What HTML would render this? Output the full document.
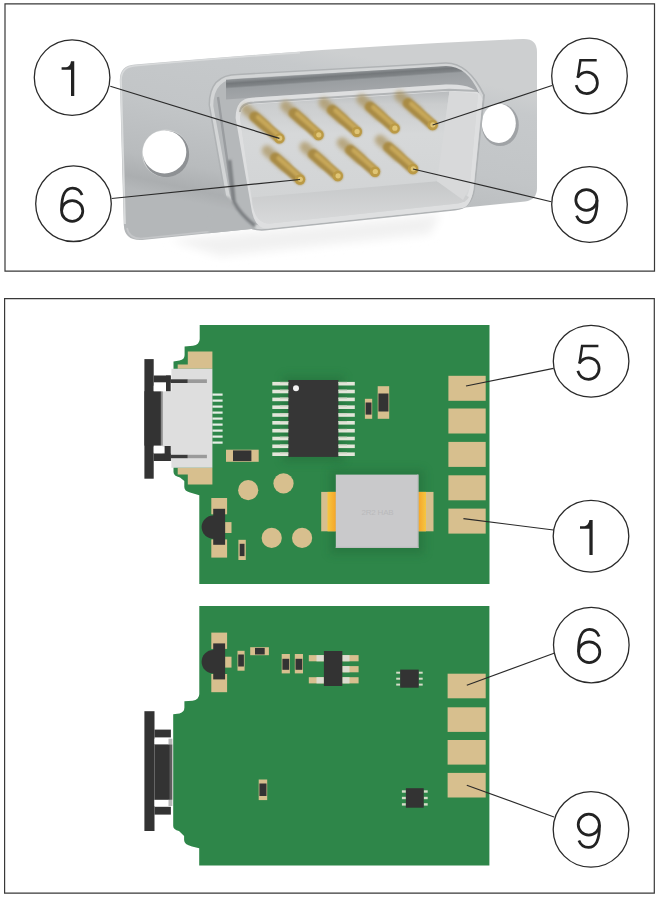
<!DOCTYPE html>
<html><head><meta charset="utf-8">
<style>
html,body{margin:0;padding:0;background:#fff;}
body{width:659px;height:898px;overflow:hidden;}
svg{display:block;}
text{font-family:"Liberation Sans",sans-serif;}
</style></head>
<body>
<svg width="659" height="898" viewBox="0 0 659 898" xmlns="http://www.w3.org/2000/svg">
<defs>
  <linearGradient id="flg" gradientUnits="userSpaceOnUse" x1="330" y1="50" x2="292" y2="224">
    <stop offset="0" stop-color="#cdcfd0"/>
    <stop offset="0.12" stop-color="#c6c9cb"/>
    <stop offset="0.5" stop-color="#c2c5c7"/>
    <stop offset="0.8" stop-color="#b8bbbd"/>
    <stop offset="0.93" stop-color="#abaeb0"/>
    <stop offset="1" stop-color="#b4b7b9"/>
  </linearGradient>
  <linearGradient id="bw" x1="0" y1="0" x2="0" y2="1">
    <stop offset="0" stop-color="#b9bcbe"/>
    <stop offset="0.12" stop-color="#cbcdce"/>
    <stop offset="0.4" stop-color="#d6d8d9"/>
    <stop offset="1" stop-color="#d2d4d5"/>
  </linearGradient>
  <linearGradient id="botw" x1="0" y1="0" x2="0" y2="1">
    <stop offset="0" stop-color="#c6c8c9"/>
    <stop offset="1" stop-color="#d8d9da"/>
  </linearGradient>
  <linearGradient id="pinb" x1="0" y1="0" x2="1" y2="1">
    <stop offset="0" stop-color="#b8923a"/>
    <stop offset="1" stop-color="#c9a245"/>
  </linearGradient>
  <radialGradient id="tip" cx="0.45" cy="0.45" r="0.6">
    <stop offset="0" stop-color="#f0d27a"/>
    <stop offset="1" stop-color="#c9a040"/>
  </radialGradient>
  <filter id="blur05" x="-20%" y="-20%" width="140%" height="140%"><feGaussianBlur stdDeviation="0.5"/></filter>
  <filter id="blur1" x="-20%" y="-20%" width="140%" height="140%"><feGaussianBlur stdDeviation="1.2"/></filter>
  <filter id="blur2" x="-50%" y="-50%" width="200%" height="200%"><feGaussianBlur stdDeviation="2.2"/></filter>
  <filter id="blur4" x="-50%" y="-50%" width="200%" height="200%"><feGaussianBlur stdDeviation="5"/></filter>
  <linearGradient id="orgL" x1="0" y1="0" x2="1" y2="0"><stop offset="0" stop-color="#f6c640"/><stop offset="1" stop-color="#f5a52a"/></linearGradient>
  <linearGradient id="orgR" x1="0" y1="0" x2="1" y2="0"><stop offset="0" stop-color="#f5a52a"/><stop offset="1" stop-color="#f6c640"/></linearGradient>
  <linearGradient id="grv" gradientUnits="userSpaceOnUse" x1="345" y1="72.7" x2="346.3" y2="91.5"><stop offset="0" stop-color="#8c9093"/><stop offset="0.15" stop-color="#74787b"/><stop offset="0.33" stop-color="#808487"/><stop offset="0.42" stop-color="#9a9ea1"/><stop offset="1" stop-color="#a3a6a9"/></linearGradient>
</defs>
<rect width="659" height="898" fill="#fff"/>

<!-- ============ TOP FRAME ============ -->
<g id="connector">
<path d="M170 240 L440 214 L430 234 L220 256 Z" fill="#f1f1f1" filter="url(#blur4)"/>
<path d="M119.8 80 Q120 65.5 135 64.6 Q329 47.4 523 39 Q537 38.5 537 52 L537 188 Q537 200 525 201.5 L142 240 Q124.5 241 123.8 225 Z" fill="url(#flg)"/>
<path d="M121 80 Q121.2 66.6 135.5 65.7 Q230 57.5 300 52.6" fill="none" stroke="#d8dadb" stroke-width="1.6"/>
<path d="M121 80 L125 224" fill="none" stroke="#d9dbdc" stroke-width="1.8"/>
<path d="M127 228 Q129 238.5 141 238.5 L230 229.5" fill="none" stroke="#c4c6c8" stroke-width="1.6" filter="url(#blur05)"/>
<ellipse cx="165.6" cy="153.4" rx="23.6" ry="23.8" fill="#d0d2d3" filter="url(#blur05)"/>
<ellipse cx="166.2" cy="154" rx="23" ry="23.2" fill="#8e9194" filter="url(#blur05)"/>
<ellipse cx="164.5" cy="151.9" rx="21.8" ry="21.5" fill="#fff" filter="url(#blur05)"/>
<ellipse cx="500.2" cy="124.9" rx="18.6" ry="21.2" fill="#a0a3a6" filter="url(#blur05)"/>
<ellipse cx="498.8" cy="123.3" rx="17" ry="19.6" fill="#fff" filter="url(#blur05)"/>
<path d="M208.5 105 Q208.5 73.7 238 73.7 L446 62.2 Q469 62.2 485 95 L475 190 Q472 209 455 210.5 L265 230.5 Q238 233 224.5 196 Z" fill="#b0b3b5" filter="url(#blur05)"/>
<path d="M210 105 Q210 75.2 238 75.2 L446 63.7 Q468 63.7 483 95 L473.5 190 Q470.5 207.5 455 209 L265 229 Q239 231.5 226 195 Z" fill="#d3d5d6"/>
<path d="M213.3 106 Q213.5 78.5 238.5 78.5 L446 66.5 Q465 66.5 479 96 L469.5 190 Q466.5 204.5 454 205.5 L265 225.5 Q243 227.5 229.5 194 Z" fill="#b5b8ba"/>
<path d="M226 79.8 L446 66.1 Q467 66 479 93 L472 97 Q462 85 446 84.6 L226 99.5 Z" fill="url(#grv)" filter="url(#blur05)"/>

<path d="M218 97 L233 200" stroke="#9a9da0" stroke-width="2.4" filter="url(#blur05)"/>
<clipPath id="flclip"><path d="M119.8 80 Q120 65.5 135 64.6 Q329 47.4 523 39 Q537 38.5 537 52 L537 188 Q537 200 525 201.5 L142 240 Q124.5 241 123.8 225 Z"/></clipPath>
<g clip-path="url(#flclip)"><path d="M212 194 L229 197 Q240 213 256 229 L250 238 L208 238 Z" fill="url(#flg)" filter="url(#blur1)"/></g>
<path d="M229.5 160 L234 202 Q240 214 255 226" fill="none" stroke="#7c7f82" stroke-width="3.6" filter="url(#blur1)"/>
<path d="M235.6 118 Q235.6 98.3 252 97.7 L446 84.6 Q476 83 482.4 99 L473.5 188.3 Q471 206 462.8 207.9 L268 228.5 Q256 229.5 252 212 Z" fill="#dedfe0"/>
<path d="M240 112 Q241 103 254 102.5 L449 89.8 L478 91" fill="none" stroke="#a3a6a8" stroke-width="2" opacity="0.75" filter="url(#blur05)"/>
<path d="M240 118 Q241 104.6 254 104.3 L449 91.5 L478 94 L469.5 188 Q467 202 458 203.5 L270 223.5 Q256 224 251.7 200 Z" fill="#d4d6d7"/>
<path d="M240 118 Q241 104.6 254 104.3 L449.4 91.5 L437 181.2 L252 197.4 Z" fill="url(#bw)"/>
<path d="M252 197.4 L437 181.2 L469 197 Q467 202 458 203.5 L270 223.5 Q256 224 252.5 205 Z" fill="url(#botw)"/>
<path d="M449.4 91.5 L478 94 L469.5 188 L463 200 L437 181.2 Z" fill="#d8d9da"/>
<g stroke-linecap="round">
<g stroke="#a88f55" stroke-width="10.5" opacity="0.65" filter="url(#blur2)"><line x1="246.4" y1="109.4" x2="264.4" y2="125.2"/><line x1="285.5" y1="106.0" x2="303.5" y2="121.8"/><line x1="323.8" y1="102.7" x2="341.8" y2="118.5"/><line x1="361.6" y1="99.4" x2="379.6" y2="115.2"/><line x1="399.6" y1="96.0" x2="417.6" y2="111.8"/><line x1="267.0" y1="150.5" x2="285.0" y2="166.3"/><line x1="304.8" y1="147.0" x2="322.8" y2="162.8"/><line x1="342.0" y1="142.7" x2="360.0" y2="158.5"/><line x1="380.0" y1="140.0" x2="398.0" y2="155.8"/></g>
<g stroke="#a98b44" stroke-width="10.4" filter="url(#blur1)"><line x1="254.6" y1="116.6" x2="279.4" y2="138.4"/><line x1="293.8" y1="113.2" x2="318.5" y2="135.0"/><line x1="332.1" y1="109.9" x2="356.8" y2="131.7"/><line x1="369.9" y1="106.6" x2="394.6" y2="128.4"/><line x1="407.9" y1="103.2" x2="432.6" y2="125.0"/><line x1="275.2" y1="157.7" x2="300.0" y2="179.5"/><line x1="313.1" y1="154.2" x2="337.8" y2="176.0"/><line x1="350.2" y1="149.9" x2="375.0" y2="171.7"/><line x1="388.2" y1="147.2" x2="413.0" y2="169.0"/></g>
<g stroke="#cbab5c" stroke-width="4.6" opacity="0.9" filter="url(#blur1)"><line x1="258.1" y1="117.2" x2="280.6" y2="137.0"/><line x1="297.2" y1="113.8" x2="319.7" y2="133.6"/><line x1="335.5" y1="110.5" x2="358.0" y2="130.3"/><line x1="373.3" y1="107.2" x2="395.8" y2="127.0"/><line x1="411.3" y1="103.8" x2="433.8" y2="123.6"/><line x1="278.7" y1="158.3" x2="301.2" y2="178.1"/><line x1="316.5" y1="154.8" x2="339.0" y2="174.6"/><line x1="353.7" y1="150.5" x2="376.2" y2="170.3"/><line x1="391.7" y1="147.8" x2="414.2" y2="167.6"/></g>
</g>
<g fill="#bb9a45" filter="url(#blur05)"><circle cx="279.4" cy="138.4" r="5.2"/><circle cx="318.5" cy="135.0" r="5.2"/><circle cx="356.8" cy="131.7" r="5.2"/><circle cx="394.6" cy="128.4" r="5.2"/><circle cx="432.6" cy="125.0" r="5.2"/><circle cx="300.0" cy="179.5" r="5.2"/><circle cx="337.8" cy="176.0" r="5.2"/><circle cx="375.0" cy="171.7" r="5.2"/><circle cx="413.0" cy="169.0" r="5.2"/></g>
<g fill="#e0c575" filter="url(#blur05)"><circle cx="279.7" cy="138.2" r="2.6"/><circle cx="318.8" cy="134.8" r="2.6"/><circle cx="357.1" cy="131.5" r="2.6"/><circle cx="394.9" cy="128.2" r="2.6"/><circle cx="432.9" cy="124.8" r="2.6"/><circle cx="300.3" cy="179.3" r="2.6"/><circle cx="338.1" cy="175.8" r="2.6"/><circle cx="375.3" cy="171.5" r="2.6"/><circle cx="413.3" cy="168.8" r="2.6"/></g>
</g>
<g id="pcbs">
<path d="M199.7 325 L489.5 325 L489.5 584 L199.3 584 L199.3 495.2 L190 492.5 Q184.3 491 184.3 487 L184.3 481 L180 477.5 Q173.5 476 173.5 472 L173.5 361.6 L179.5 360.6 Q184.6 359.5 184.6 355 L184.6 346.4 L193 345.8 Q199.7 344.5 199.7 339 Z" fill="#2e8649"/>
<path d="M187.8 351.4 L212.4 351.4 L212.4 368.7 L177.7 368.7 L177.7 364.6 L187.8 364.6 Z" fill="#d7bf8e"/>
<path d="M177.7 467.7 L212.4 467.7 L212.4 484.6 L187.8 484.6 L187.8 474.6 L177.7 474.6 Z" fill="#d7bf8e"/>
<path d="M171.4 368.7 L212.4 368.7 L212.4 467.8 L171.4 467.8 L171.4 461 L162.5 461 L162.5 391.2 L171.4 391.2 Z" fill="#dedede"/>
<rect x="144.4" y="359.1" width="9.3" height="119.6" fill="#333333"/>
<rect x="144.4" y="391.2" width="16.8" height="54.4" fill="#333333"/>
<rect x="160.8" y="391.2" width="2.0" height="54.4" fill="#8c8c8c"/>
<rect x="153.7" y="375.5" width="17.0" height="6.8" fill="#333333"/>
<rect x="153.7" y="385.7" width="12.3" height="5.5" fill="#ffffff"/>
<rect x="166.0" y="375.5" width="4.7" height="15.7" fill="#333333"/>
<rect x="170.7" y="379.3" width="17.1" height="3.7" fill="#3a3a3a"/>
<rect x="187.8" y="379.3" width="19.1" height="3.7" fill="#9a9a9a"/>
<rect x="153.7" y="453.5" width="17.0" height="7.5" fill="#333333"/>
<rect x="153.7" y="446.6" width="12.3" height="6.2" fill="#ffffff"/>
<rect x="164.6" y="446.0" width="6.1" height="15.0" fill="#333333"/>
<rect x="170.7" y="454.8" width="17.1" height="3.4" fill="#3a3a3a"/>
<rect x="187.8" y="454.8" width="19.1" height="3.4" fill="#9a9a9a"/>
<rect x="212.4" y="393.5" width="10.2" height="2.2" fill="#e6eee6"/>
<rect x="212.4" y="399.5" width="10.2" height="2.2" fill="#e6eee6"/>
<rect x="212.4" y="405.5" width="10.2" height="2.2" fill="#e6eee6"/>
<rect x="212.4" y="411.5" width="10.2" height="2.2" fill="#e6eee6"/>
<rect x="212.4" y="417.5" width="10.2" height="2.2" fill="#e6eee6"/>
<rect x="212.4" y="423.5" width="10.2" height="2.2" fill="#e6eee6"/>
<rect x="212.4" y="429.5" width="10.2" height="2.2" fill="#e6eee6"/>
<rect x="212.4" y="435.5" width="10.2" height="2.2" fill="#e6eee6"/>
<rect x="212.4" y="441.5" width="10.2" height="2.2" fill="#e6eee6"/>
<rect x="283" y="376" width="61" height="86" fill="#1f5e33" opacity="0.35" filter="url(#blur4)"/>
<rect x="288.3" y="380.0" width="50.1" height="76.9" fill="#363636"/>
<rect x="272.3" y="381.9" width="16.0" height="3.6" fill="#e3e6da"/>
<rect x="338.4" y="381.9" width="16.4" height="3.6" fill="#e3e6da"/>
<rect x="280.0" y="381.9" width="8.3" height="1.2" fill="#cdd3c4"/>
<rect x="338.4" y="381.9" width="8.6" height="1.2" fill="#cdd3c4"/>
<rect x="272.3" y="389.7" width="16.0" height="3.6" fill="#e3e6da"/>
<rect x="338.4" y="389.7" width="16.4" height="3.6" fill="#e3e6da"/>
<rect x="280.0" y="389.7" width="8.3" height="1.2" fill="#cdd3c4"/>
<rect x="338.4" y="389.7" width="8.6" height="1.2" fill="#cdd3c4"/>
<rect x="272.3" y="397.6" width="16.0" height="3.6" fill="#e3e6da"/>
<rect x="338.4" y="397.6" width="16.4" height="3.6" fill="#e3e6da"/>
<rect x="280.0" y="397.6" width="8.3" height="1.2" fill="#cdd3c4"/>
<rect x="338.4" y="397.6" width="8.6" height="1.2" fill="#cdd3c4"/>
<rect x="272.3" y="405.4" width="16.0" height="3.6" fill="#e3e6da"/>
<rect x="338.4" y="405.4" width="16.4" height="3.6" fill="#e3e6da"/>
<rect x="280.0" y="405.4" width="8.3" height="1.2" fill="#cdd3c4"/>
<rect x="338.4" y="405.4" width="8.6" height="1.2" fill="#cdd3c4"/>
<rect x="272.3" y="413.2" width="16.0" height="3.6" fill="#e3e6da"/>
<rect x="338.4" y="413.2" width="16.4" height="3.6" fill="#e3e6da"/>
<rect x="280.0" y="413.2" width="8.3" height="1.2" fill="#cdd3c4"/>
<rect x="338.4" y="413.2" width="8.6" height="1.2" fill="#cdd3c4"/>
<rect x="272.3" y="421.0" width="16.0" height="3.6" fill="#e3e6da"/>
<rect x="338.4" y="421.0" width="16.4" height="3.6" fill="#e3e6da"/>
<rect x="280.0" y="421.0" width="8.3" height="1.2" fill="#cdd3c4"/>
<rect x="338.4" y="421.0" width="8.6" height="1.2" fill="#cdd3c4"/>
<rect x="272.3" y="428.9" width="16.0" height="3.6" fill="#e3e6da"/>
<rect x="338.4" y="428.9" width="16.4" height="3.6" fill="#e3e6da"/>
<rect x="280.0" y="428.9" width="8.3" height="1.2" fill="#cdd3c4"/>
<rect x="338.4" y="428.9" width="8.6" height="1.2" fill="#cdd3c4"/>
<rect x="272.3" y="436.7" width="16.0" height="3.6" fill="#e3e6da"/>
<rect x="338.4" y="436.7" width="16.4" height="3.6" fill="#e3e6da"/>
<rect x="280.0" y="436.7" width="8.3" height="1.2" fill="#cdd3c4"/>
<rect x="338.4" y="436.7" width="8.6" height="1.2" fill="#cdd3c4"/>
<rect x="272.3" y="444.5" width="16.0" height="3.6" fill="#e3e6da"/>
<rect x="338.4" y="444.5" width="16.4" height="3.6" fill="#e3e6da"/>
<rect x="280.0" y="444.5" width="8.3" height="1.2" fill="#cdd3c4"/>
<rect x="338.4" y="444.5" width="8.6" height="1.2" fill="#cdd3c4"/>
<rect x="272.3" y="452.4" width="16.0" height="3.6" fill="#e3e6da"/>
<rect x="338.4" y="452.4" width="16.4" height="3.6" fill="#e3e6da"/>
<rect x="280.0" y="452.4" width="8.3" height="1.2" fill="#cdd3c4"/>
<rect x="338.4" y="452.4" width="8.6" height="1.2" fill="#cdd3c4"/>
<circle cx="296" cy="388.2" r="3" fill="#f2f2f2"/>
<rect x="364.9" y="398.8" width="7.3" height="20.0" fill="#d7bf8e"/>
<rect x="365.6" y="402.5" width="5.9" height="12.1" fill="#333333"/>
<rect x="377.7" y="386.2" width="11.5" height="32.6" fill="#d7bf8e"/>
<rect x="378.4" y="393.5" width="10.1" height="18.0" fill="#333333"/>
<rect x="226.0" y="449.7" width="32.7" height="12.1" fill="#d7bf8e"/>
<rect x="233.0" y="450.4" width="18.4" height="10.7" fill="#333333"/>
<circle cx="248.2" cy="490.2" r="10.1" fill="#d7bf8e"/>
<circle cx="283.5" cy="483.4" r="10.1" fill="#d7bf8e"/>
<circle cx="271.7" cy="537.9" r="10.1" fill="#d7bf8e"/>
<circle cx="302.1" cy="537.9" r="10.1" fill="#d7bf8e"/>
<rect x="211.3" y="498.0" width="15.8" height="16.3" fill="#d7bf8e"/>
<rect x="211.3" y="539.4" width="15.8" height="18.2" fill="#d7bf8e"/>
<rect x="225.1" y="522.1" width="6.4" height="10.9" fill="#d7bf8e"/>
<circle cx="213.2" cy="527.1" r="11.6" fill="#333333"/>
<rect x="213.2" y="508.8" width="11.9" height="36.0" fill="#333333"/>
<rect x="238.4" y="539.8" width="7.4" height="20.2" fill="#d7bf8e"/>
<rect x="239.7" y="543.8" width="4.8" height="12.3" fill="#333333"/>
<rect x="330" y="470" width="94" height="84" fill="#1f5e33" opacity="0.35" filter="url(#blur4)"/>
<rect x="321.2" y="491.9" width="14.6" height="39.4" fill="#d7bf8e"/>
<rect x="327.5" y="491.9" width="8.3" height="39.4" fill="url(#orgL)"/>
<rect x="418.4" y="491.9" width="15.1" height="39.4" fill="#d7bf8e"/>
<rect x="418.4" y="491.9" width="7.6" height="39.4" fill="url(#orgR)"/>
<rect x="335.8" y="474.6" width="82.6" height="73.4" fill="#c9c9cb"/>
<rect x="335.8" y="546.8" width="82.6" height="1.2" fill="#bdbdbf"/>
<rect x="417.2" y="474.6" width="1.2" height="73.4" fill="#bdbdbf"/>
<text x="377.5" y="514.5" font-size="8" fill="#b9b9bb" text-anchor="middle" letter-spacing="-0.2">2R2 HAB</text>
<rect x="448.4" y="375.8" width="37.3" height="25.0" fill="#d7bf8e"/>
<rect x="448.4" y="408.5" width="37.3" height="25.0" fill="#d7bf8e"/>
<rect x="448.4" y="441.9" width="37.3" height="25.0" fill="#d7bf8e"/>
<rect x="448.4" y="475.3" width="37.3" height="25.0" fill="#d7bf8e"/>
<rect x="448.4" y="508.6" width="37.3" height="25.0" fill="#d7bf8e"/>
<path d="M199.3 605.9 L489.4 605.9 L489.4 865.6 L199.2 865.6 L199.2 848.2 L192 846.5 Q184.1 844.5 184.1 840 L184.1 836 L179 831 Q173.2 829.5 173.2 826 L173.2 714.3 L179.5 713.5 Q184.4 712 184.4 707.5 L184.4 701.3 L192.5 700.8 Q199.3 699.5 199.3 694 Z" fill="#2e8649"/>
<rect x="144.4" y="711.2" width="10.1" height="119.8" fill="#333333"/>
<rect x="154.5" y="729.6" width="16.4" height="7.8" fill="#333333"/>
<rect x="154.5" y="806.8" width="16.4" height="7.8" fill="#333333"/>
<rect x="154.5" y="738.7" width="14.0" height="5.3" fill="#ffffff"/>
<rect x="154.5" y="799.8" width="14.0" height="6.2" fill="#ffffff"/>
<rect x="154.5" y="744.4" width="15.6" height="55.4" fill="#333333"/>
<rect x="168.5" y="738.7" width="3.9" height="5.7" fill="#b8b8b8"/>
<rect x="168.5" y="799.8" width="3.9" height="6.2" fill="#b8b8b8"/>
<rect x="169.5" y="744.4" width="2.9" height="55.4" fill="#5c5c5c"/>
<rect x="211.3" y="632.6" width="15.8" height="16.3" fill="#d7bf8e"/>
<rect x="211.3" y="674.0" width="15.8" height="18.2" fill="#d7bf8e"/>
<rect x="225.1" y="656.7" width="6.4" height="10.9" fill="#d7bf8e"/>
<circle cx="213.2" cy="661.7" r="11.6" fill="#333333"/>
<rect x="213.2" y="643.4" width="11.9" height="36.0" fill="#333333"/>
<rect x="237.5" y="650.8" width="7.1" height="19.9" fill="#d7bf8e"/>
<rect x="238.2" y="654.5" width="5.7" height="12.0" fill="#333333"/>
<rect x="250.2" y="647.2" width="18.7" height="8.0" fill="#d7bf8e"/>
<rect x="255.0" y="647.9" width="9.7" height="6.6" fill="#333333"/>
<rect x="281.7" y="654.0" width="8.2" height="19.4" fill="#d7bf8e"/>
<rect x="282.4" y="658.8" width="6.8" height="11.0" fill="#333333"/>
<rect x="294.8" y="654.0" width="8.2" height="19.4" fill="#d7bf8e"/>
<rect x="295.5" y="658.8" width="6.8" height="11.0" fill="#333333"/>
<rect x="308.8" y="655.1" width="15.1" height="6.2" fill="#d7bf8e"/>
<rect x="316.5" y="655.1" width="7.4" height="6.2" fill="#dcdcd0"/>
<rect x="308.8" y="677.2" width="15.1" height="6.2" fill="#d7bf8e"/>
<rect x="316.5" y="677.2" width="7.4" height="6.2" fill="#dcdcd0"/>
<rect x="342.3" y="655.1" width="16.3" height="6.2" fill="#d7bf8e"/>
<rect x="342.3" y="655.1" width="7.2" height="6.2" fill="#dcdcd0"/>
<rect x="342.3" y="666.1" width="16.3" height="6.2" fill="#d7bf8e"/>
<rect x="342.3" y="666.1" width="7.2" height="6.2" fill="#dcdcd0"/>
<rect x="342.3" y="677.2" width="16.3" height="6.2" fill="#d7bf8e"/>
<rect x="342.3" y="677.2" width="7.2" height="6.2" fill="#dcdcd0"/>
<rect x="323.9" y="651.0" width="18.4" height="35.0" fill="#333333"/>
<rect x="396.2" y="671.7" width="4.0" height="2.0" fill="#d5dcc8"/>
<rect x="418.7" y="671.7" width="4.0" height="2.0" fill="#d5dcc8"/>
<rect x="396.2" y="677.7" width="4.0" height="2.0" fill="#d5dcc8"/>
<rect x="418.7" y="677.7" width="4.0" height="2.0" fill="#d5dcc8"/>
<rect x="396.2" y="683.6" width="4.0" height="2.0" fill="#d5dcc8"/>
<rect x="418.7" y="683.6" width="4.0" height="2.0" fill="#d5dcc8"/>
<rect x="400.2" y="669.6" width="18.5" height="18.1" fill="#333333"/>
<rect x="401.9" y="790.3" width="4.0" height="2.4" fill="#d5dcc8"/>
<rect x="423.7" y="790.3" width="4.0" height="2.4" fill="#d5dcc8"/>
<rect x="401.9" y="796.8" width="4.0" height="2.4" fill="#d5dcc8"/>
<rect x="423.7" y="796.8" width="4.0" height="2.4" fill="#d5dcc8"/>
<rect x="401.9" y="803.2" width="4.0" height="2.4" fill="#d5dcc8"/>
<rect x="423.7" y="803.2" width="4.0" height="2.4" fill="#d5dcc8"/>
<rect x="405.9" y="788.2" width="17.8" height="19.5" fill="#333333"/>
<rect x="258.7" y="779.5" width="8.5" height="20.6" fill="#d7bf8e"/>
<rect x="259.4" y="783.5" width="7.1" height="12.5" fill="#333333"/>
<rect x="447.6" y="673.7" width="38.1" height="24.6" fill="#d7bf8e"/>
<rect x="447.6" y="707.3" width="38.1" height="24.6" fill="#d7bf8e"/>
<rect x="447.6" y="740.0" width="38.1" height="24.6" fill="#d7bf8e"/>
<rect x="447.6" y="772.9" width="38.1" height="24.6" fill="#d7bf8e"/></g>
<g fill="none" stroke="#383838" stroke-width="1.2" stroke-linecap="square">
  <path d="M5.0 3.95 H654.5 V271.2 H5.0 Z"/>
  <path d="M4.6 298.65 H654.3 V893.2 H4.6 Z"/>
</g>
<g stroke="#2a2a2a" stroke-width="1.15" fill="none">
  <line x1="110.3" y1="86.3" x2="279.4" y2="138.4"/>
  <line x1="111.7" y1="198.5" x2="300" y2="179.5"/>
  <line x1="552" y1="85.5" x2="432.6" y2="125"/>
  <line x1="551.3" y1="201.7" x2="413" y2="169"/>
  <line x1="553.5" y1="368.4" x2="466" y2="386"/>
  <line x1="553.5" y1="530" x2="463.4" y2="518.6"/>
  <line x1="554" y1="653.3" x2="466.8" y2="685.2"/>
  <line x1="554" y1="817" x2="466.8" y2="785.2"/>
</g>
<g fill="#fff" stroke="#2a2a2a" stroke-width="1.3">
  <ellipse cx="72.1" cy="77.6" rx="37.8" ry="37.8"/>
  <ellipse cx="73.5" cy="203.7" rx="37.8" ry="37.8"/>
  <ellipse cx="589.5" cy="76" rx="37.8" ry="37.8"/>
  <ellipse cx="589.5" cy="204.5" rx="37.8" ry="37.8"/>
  <ellipse cx="591.1" cy="361.2" rx="37.8" ry="35.9"/>
  <ellipse cx="591" cy="536.2" rx="37.8" ry="35.9"/>
  <ellipse cx="591.3" cy="645.1" rx="37.8" ry="37.8"/>
  <ellipse cx="591" cy="829.4" rx="37.8" ry="37.8"/>
</g>
<g transform="translate(61.60,61.15)"><path d="M9.4 0 L12.65 0 L12.65 34.85 L9.4 34.85 Z M0 6.15 L4.5 6.15 Q8.6 5.6 9.4 0 L9.4 8.55 L0 8.55 Z" fill="#222"/></g>
<g transform="translate(59.90,186.80)"><path d="M1.7 24 C1.4 8 5.5 1.375 12.6 1.375 C17 1.375 20.5 4 22.2 8.3" fill="none" stroke="#222" stroke-width="2.75"/><ellipse cx="12.3" cy="24.1" rx="10.6" ry="10.4" fill="none" stroke="#222" stroke-width="2.75"/></g>
<g transform="translate(574.50,59.10)"><path d="M22.2 1.25 L5.9 1.25 L3.3 18.8" fill="none" stroke="#222" stroke-width="2.5" stroke-linejoin="miter"/><path d="M3.1 18.5 C5.2 15.2 8.5 13.0 12.3 13.0 C18.5 13.0 22.9 17.7 22.9 23.8 C22.9 29.9 18.3 34.5 12.2 34.5 C7.2 34.5 3.3 31.4 1.6 26.0" fill="none" stroke="#222" stroke-width="2.75"/></g>
<g transform="translate(598.70,224.00) rotate(180)"><path d="M1.7 24 C1.4 8 5.5 1.375 12.6 1.375 C17 1.375 20.5 4 22.2 8.3" fill="none" stroke="#222" stroke-width="2.75"/><ellipse cx="12.3" cy="24.1" rx="10.6" ry="10.4" fill="none" stroke="#222" stroke-width="2.75"/></g>
<g transform="translate(576.20,344.80)"><path d="M22.2 1.25 L5.9 1.25 L3.3 18.8" fill="none" stroke="#222" stroke-width="2.5" stroke-linejoin="miter"/><path d="M3.1 18.5 C5.2 15.2 8.5 13.0 12.3 13.0 C18.5 13.0 22.9 17.7 22.9 23.8 C22.9 29.9 18.3 34.5 12.2 34.5 C7.2 34.5 3.3 31.4 1.6 26.0" fill="none" stroke="#222" stroke-width="2.75"/></g>
<g transform="translate(580.00,520.10)"><path d="M9.4 0 L12.65 0 L12.65 34.85 L9.4 34.85 Z M0 6.15 L4.5 6.15 Q8.6 5.6 9.4 0 L9.4 8.55 L0 8.55 Z" fill="#222"/></g>
<g transform="translate(576.90,628.10)"><path d="M1.7 24 C1.4 8 5.5 1.375 12.6 1.375 C17 1.375 20.5 4 22.2 8.3" fill="none" stroke="#222" stroke-width="2.75"/><ellipse cx="12.3" cy="24.1" rx="10.6" ry="10.4" fill="none" stroke="#222" stroke-width="2.75"/></g>
<g transform="translate(601.10,848.70) rotate(180)"><path d="M1.7 24 C1.4 8 5.5 1.375 12.6 1.375 C17 1.375 20.5 4 22.2 8.3" fill="none" stroke="#222" stroke-width="2.75"/><ellipse cx="12.3" cy="24.1" rx="10.6" ry="10.4" fill="none" stroke="#222" stroke-width="2.75"/></g>
</svg>
</body></html>
